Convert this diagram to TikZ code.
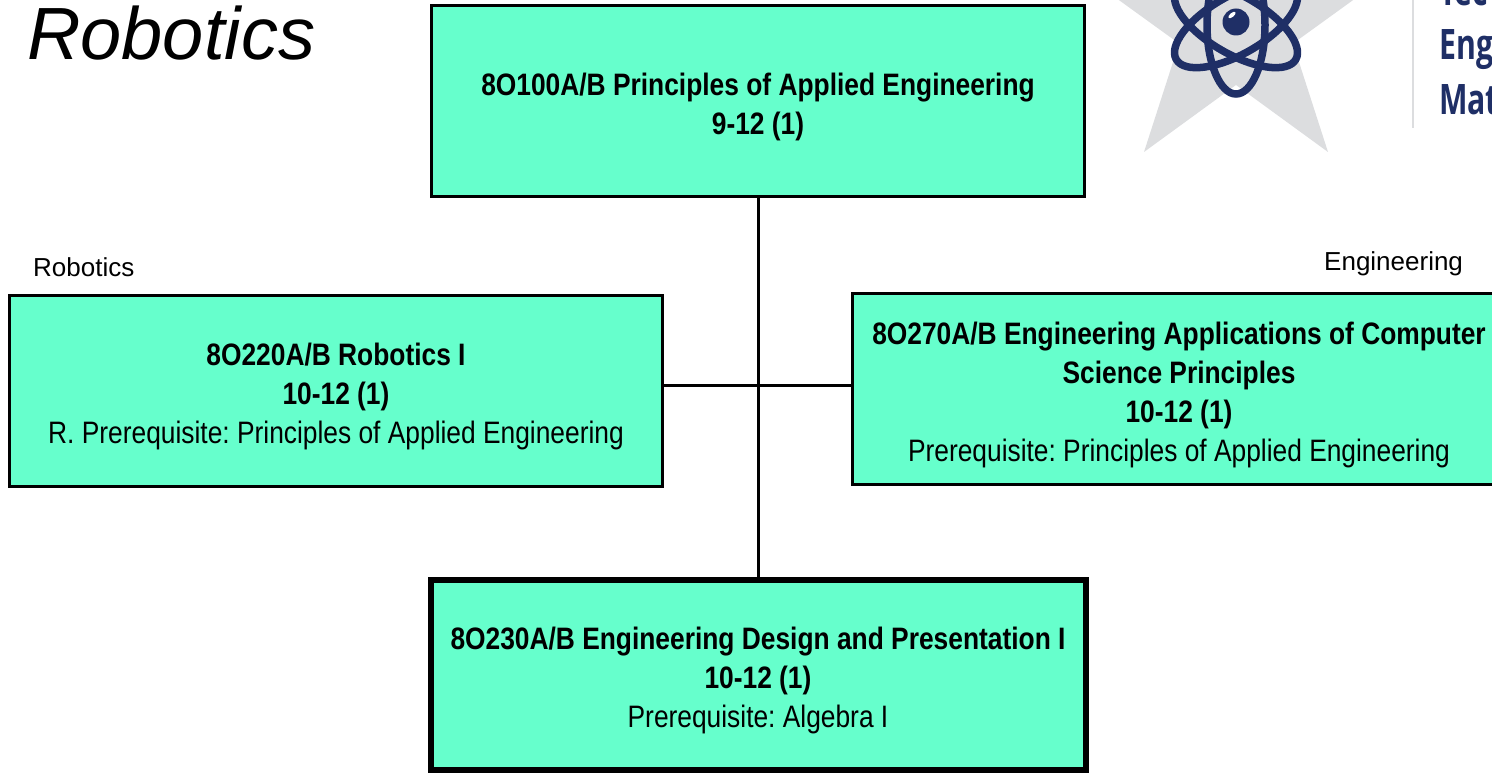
\documentclass[tikz,border=0pt]{standalone}
\usepackage{fontspec}
\setmainfont{Liberation Sans}
\newfontfamily\narrowfont[FakeStretch=0.85]{Liberation Sans}
\newfontfamily\logofont[FakeStretch=0.72]{Open Sans}
\definecolor{boxfill}{HTML}{66FFCC}
\definecolor{navy}{HTML}{1F2F66}
\definecolor{stargrey}{HTML}{DCDDDF}
\newcommand{\dropline}{\rule{0pt}{34pt}}
\tikzset{
  course/.style={draw=black,fill=boxfill,line width=3pt,minimum width=653pt,minimum height=191pt,
    inner sep=0pt,outer sep=0pt,align=center,font=\narrowfont\fontsize{31}{39}\selectfont\frenchspacing},
  corelabel/.style={inner sep=0pt,anchor=base west,font=\fontsize{26}{30}\selectfont},
  logotext/.style={inner sep=0pt,anchor=base west,text=navy,font=\logofont\bfseries\fontsize{42}{48}\selectfont},
  orbit/.style={draw=navy,line width=7.5pt}
}
\begin{document}
\begin{tikzpicture}[x=1pt,y=-1pt]
\clip (0,0) rectangle (1492,773);
% logo
\fill[stargrey] (1236,-131.5) -- (1271,-23) -- (1385,-23) -- (1293,43.5) -- (1328,152) -- (1236,85)
  -- (1144,152) -- (1179,43.5) -- (1087,-23) -- (1201,-23) -- cycle;
\draw[orbit] (1236,25) ellipse [x radius=29pt,y radius=69pt];
\draw[orbit,rotate around={60:(1236,25)}] (1236,25) ellipse [x radius=29pt,y radius=69pt];
\draw[orbit,rotate around={-60:(1236,25)}] (1236,25) ellipse [x radius=29pt,y radius=69pt];
\fill[navy] (1236,22) circle [radius=13.5pt];
\fill[white,rotate around={40:(1232,15)}] (1232,15) ellipse [x radius=4.5pt,y radius=2pt];
\draw[stargrey,line width=2pt] (1413,-5) -- (1413,128);
\node[logotext] (l1) at (1439,6) {Tec};
\node[logotext] (l2) at (1439,60) {Eng};
\node[logotext] (l3) at (1439,115) {Mat};
% title
\node[inner sep=0pt,anchor=base west,font=\itshape\fontsize{74}{80}\selectfont] (title) at (27,60) {Robotics};
% boxes
\node[course] (top) at (758,101) {\dropline\textbf{8O100A/B Principles of Applied Engineering}\\\textbf{9-12 (1)}};
\node[course] (rob) at (336,390.5) {\dropline\textbf{8O220A/B Robotics I}\\\textbf{10-12 (1)}\\R. Prerequisite: Principles of Applied Engineering};
\node[course] (eng) at (1179,389) {\dropline\textbf{8O270A/B Engineering Applications of Computer}\\\textbf{Science Principles}\\\textbf{10-12 (1)}\\Prerequisite: Principles of Applied Engineering};
\node[course,line width=6pt,minimum width=655pt,minimum height=190pt] (bot) at (758,675) {\dropline\textbf{8O230A/B Engineering Design and Presentation I}\\\textbf{10-12 (1)}\\Prerequisite: Algebra I};
% connectors
\coordinate (j) at (758,385);
\draw[line width=3pt] (top.south) -- (bot.north);
\draw[line width=3pt] (rob.east |- j) -- (eng.west |- j);
% labels
\node[corelabel] (lr) at (33,276) {Robotics};
\node[corelabel] (le) at (1324,270) {Engineering};
\end{tikzpicture}
\end{document}
